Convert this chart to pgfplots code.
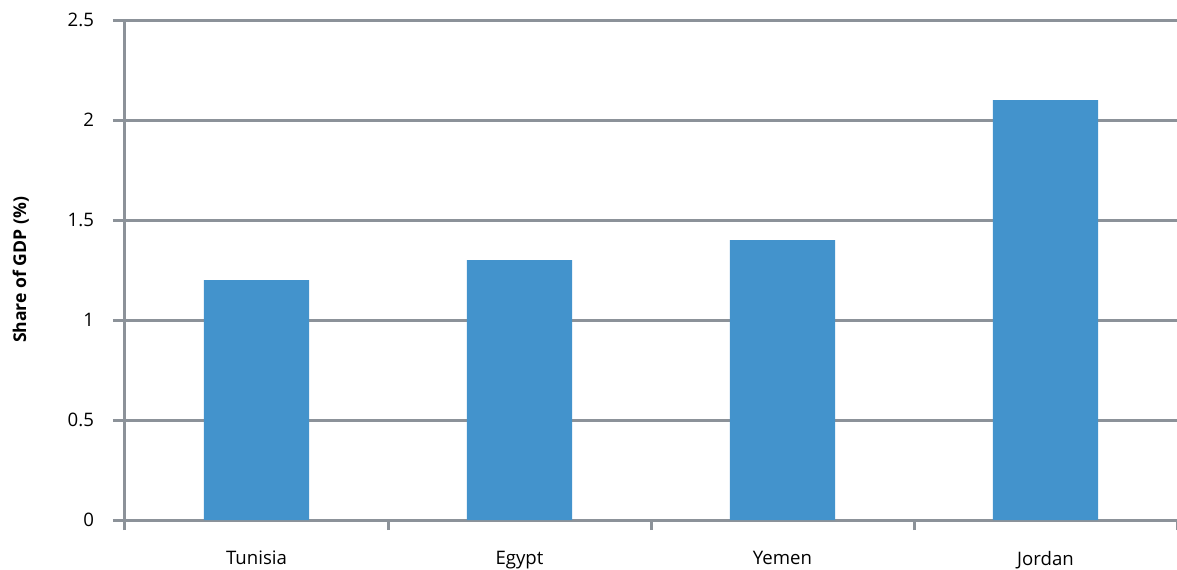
\documentclass[border=0pt]{standalone}
\usepackage{pgfplots}
\pgfplotsset{compat=1.18}
\usepackage{fontspec}
\setmainfont{Open Sans}
\definecolor{barblue}{RGB}{67,147,204}
\definecolor{gridgray}{RGB}{140,146,153}
\begin{document}
\begin{tikzpicture}
\begin{axis}[
  width=526pt, height=250pt, scale only axis,
  xmin=-0.5, xmax=3.5, ymin=0, ymax=2.5,
  axis y line*=left, axis x line*=bottom,
  axis line style={gridgray, line width=1.5pt, -},
  xtick={0,1,2,3},
  xticklabels={Tunisia,Egypt,Yemen,Jordan},
  minor xtick={-0.5,0.5,1.5,2.5,3.5},
  ytick={0,0.5,1,1.5,2,2.5},
  yticklabels={0,0.5,1,1.5,2,2.5},
  ymajorgrids,
  grid style={gridgray, line width=1.5pt},
  major x tick style={draw=none},
  minor x tick style={gridgray, line width=1.5pt},
  minor tick length=5pt,
  y tick style={gridgray, line width=1.5pt},
  major tick length=6pt,
  tick align=outside,
  xticklabel style={font=\fontsize{9.3}{10}\selectfont, yshift=-6pt},
  yticklabel style={font=\fontsize{9.3}{10}\selectfont, xshift=-6pt},
  ylabel={\textbf{Share of GDP (\%)}},
  ylabel style={font=\fontsize{8.8}{10}\selectfont, yshift=12.5pt},
  clip=false,
]
\addplot[ybar, bar width=0.4, fill=barblue, draw=none] coordinates {(0,1.2) (1,1.3) (2,1.4) (3,2.1)};
\end{axis}
\pgfresetboundingbox
\path (current axis.south west) ++(-62.5pt,-24.5pt) coordinate (bbA);
\path (current axis.north east) ++(0pt,10pt) coordinate (bbB);
\useasboundingbox (bbA) rectangle (bbB);
\end{tikzpicture}
\end{document}
